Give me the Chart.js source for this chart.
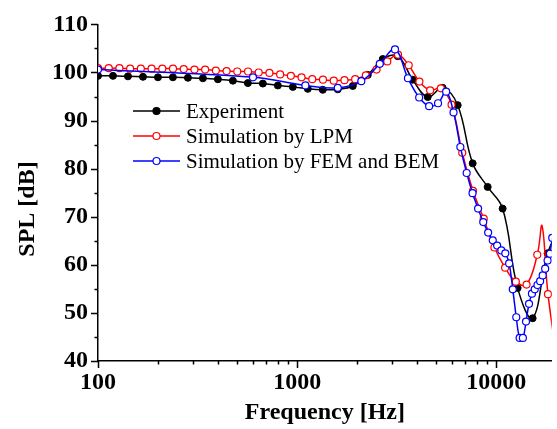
<!DOCTYPE html>
<html>
<head>
<meta charset="utf-8">
<script src="https://cdn.jsdelivr.net/npm/chart.js@4.4.1/dist/chart.umd.min.js"></script>
<style>
  html, body { margin: 0; padding: 0; background: #fff; }
  #wrap { width: 557px; height: 429px; }
</style>
</head>
<body>
<div id="wrap"><canvas id="splChart" width="557" height="429"></canvas></div>
<script>
// Measured SPL (1/4 octave points)
const expFreq = [100, 118.9, 141.4, 168.2, 200, 237.8, 282.8, 336.4, 400, 475.7, 565.7, 672.7, 800, 951.4,
    1131, 1345, 1600, 1903, 2263, 2691, 3200, 3805, 4525, 5382, 6400, 7611, 9051, 10764, 12800, 15222, 18102, 21527];
const expSPL = [99.3, 99.3, 99.2, 99.1, 99.0, 99.0, 98.9, 98.8, 98.6, 98.3, 97.8, 97.7, 97.3, 97.0,
    96.6, 96.4, 96.5, 97.2, 99.5, 102.8, 103.4, 98.5, 94.9, 96.8, 93.2, 81.1, 76.2, 71.7, 55.2, 48.9, 62.4, 69];

// Lumped parameter model
const lpmFreq = [100, 113.2, 128.1, 145.0, 164.1, 185.8, 210.3, 238.0, 269.4, 305.0, 345.1, 390.7, 442.2, 500.5,
    566.6, 641.2, 725.8, 821.5, 929.9, 1052, 1191, 1348, 1526, 1728, 1956, 2213, 2505, 2836, 3210, 3633,
    4111, 4654, 5268, 5962, 6749, 7638, 8646, 9786, 11077, 12538, 14191, 16063, 16975, 18180, 20577];
const lpmSPL = [100.9, 100.9, 100.9, 100.8, 100.8, 100.8, 100.8, 100.8, 100.7, 100.6, 100.6, 100.4, 100.3, 100.2,
    100.2, 100.0, 99.9, 99.6, 99.3, 99.0, 98.6, 98.5, 98.3, 98.4, 98.6, 99.4, 100.6, 102.3, 103.7, 101.5,
    98.1, 96.3, 96.7, 93.3, 83.3, 75.4, 69.6, 63.6, 59.4, 56.5, 55.9, 62.1, 68.1, 53.9, 38];
const lpmLineOnly = [42]; // spike point has no marker in the original

// FEM + BEM simulation (every 500 Hz)
const femFreq = [100, 600, 1100, 1600, 2100, 2600, 3100, 3600, 4100, 4600, 5100, 5600, 6100, 6600, 7100, 7600,
    8100, 8600, 9100, 9600, 10100, 10600, 11100, 11600, 12100, 12600, 13100, 13600, 14100, 14600, 15100,
    15600, 16100, 16600, 17100, 17600, 18100, 18600, 19100, 19600];
const femSPL = [100.6, 99.0, 97.3, 96.8, 98.2, 101.8, 104.8, 98.8, 94.8, 93.0, 93.6, 96.0, 91.7, 84.5, 79.1, 74.9,
    71.7, 68.9, 66.7, 65.1, 64.0, 63.0, 62.4, 60.3, 54.9, 49.1, 44.8, 44.8, 48.2, 51.9, 54.0,
    54.9, 55.8, 56.6, 57.8, 59.2, 60.9, 62.3, 65.6, 69];

const xTicks = [100, 1000, 10000];
const yTicks = [40, 50, 60, 70, 80, 90, 100, 110];
const seriesNames = ["Experiment", "Simulation by LPM", "Simulation by FEM and BEM"];

const serif = "'Liberation Serif', 'Times New Roman', serif";

function toPoints(freqs, values) {
    return freqs.map((f, i) => ({ x: f, y: values[i] }));
}

// tick marks (major + minor) and axis titles
const axisDecor = {
    id: "axisDecor",
    afterDraw(chart) {
        const ctx = chart.ctx;
        const xs = chart.scales.x, ys = chart.scales.y;
        const area = chart.chartArea;
        ctx.save();
        ctx.strokeStyle = "#000";
        ctx.lineWidth = 1.5;
        ctx.beginPath();
        xTicks.forEach(d => {
            for (let m = 1; m <= 9; m++) {
                const v = d * m;
                if (v > xs.max) continue;
                const px = Math.round(xs.getPixelForValue(v)) + 0.5;
                ctx.moveTo(px, area.bottom);
                ctx.lineTo(px, area.bottom + (m === 1 ? 7 : 3.5));
            }
        });
        for (let v = ys.min; v <= ys.max; v += 5) {
            const py = Math.round(ys.getPixelForValue(v)) + 0.5;
            ctx.moveTo(area.left, py);
            ctx.lineTo(area.left - (v % 10 === 0 ? 7 : 3.5), py);
        }
        ctx.stroke();

        ctx.fillStyle = "#000";
        ctx.font = "bold 24px " + serif;
        ctx.textAlign = "center";
        ctx.textBaseline = "middle";
        ctx.fillText("Frequency [Hz]", (area.left + area.right) / 2, 413);
        ctx.translate(28, 209);
        ctx.rotate(-Math.PI / 2);
        ctx.fillText("SPL [dB]", 0, 0);
        ctx.restore();
    }
};

// legend inside the plot, drawn from the dataset styles
const innerLegend = {
    id: "innerLegend",
    afterDraw(chart) {
        const ctx = chart.ctx;
        const rows = [111, 136, 161];
        ctx.save();
        ctx.font = "21px " + serif;
        ctx.textBaseline = "middle";
        ctx.textAlign = "left";
        chart.data.datasets.forEach((ds, i) => {
            const y = rows[i];
            ctx.strokeStyle = ds.borderColor;
            ctx.lineWidth = ds.borderWidth;
            ctx.beginPath();
            ctx.moveTo(133, y);
            ctx.lineTo(180, y);
            ctx.stroke();
            ctx.beginPath();
            ctx.arc(156.5, y, 3.5, 0, Math.PI * 2);
            ctx.fillStyle = ds.pointBackgroundColor;
            ctx.fill();
            ctx.lineWidth = 1.2;
            ctx.strokeStyle = ds.pointBorderColor;
            ctx.stroke();
            ctx.fillStyle = "#000";
            ctx.fillText(seriesNames[i], 186, y + 1);
        });
        ctx.restore();
    }
};

const chartCanvas = document.getElementById("splChart").getContext("2d");

const splChart = new Chart(chartCanvas, {
    type: "line",
    data: {
        datasets: [
            {
                label: seriesNames[0],
                data: toPoints(expFreq, expSPL),
                borderColor: "#000000",
                borderWidth: 1.5,
                pointRadius: 3.5,
                pointBackgroundColor: "#000000",
                pointBorderColor: "#000000",
                pointBorderWidth: 1,
                tension: 0.4,
                order: 2
            },
            {
                label: seriesNames[1],
                data: toPoints(lpmFreq, lpmSPL),
                borderColor: "#ff0000",
                borderWidth: 1.5,
                pointRadius: ctx => lpmLineOnly.includes(ctx.dataIndex) ? 0 : 3.5,
                pointBackgroundColor: "#ffffff",
                pointBorderColor: "#ff0000",
                pointBorderWidth: 1.2,
                tension: 0.4,
                order: 1
            },
            {
                label: seriesNames[2],
                data: toPoints(femFreq, femSPL),
                borderColor: "#0000ff",
                borderWidth: 1.5,
                pointRadius: 3.5,
                pointBackgroundColor: "#ffffff",
                pointBorderColor: "#0000ff",
                pointBorderWidth: 1.2,
                tension: 0.4,
                order: 0
            }
        ]
    },
    options: {
        responsive: false,
        animation: false,
        layout: { padding: { top: 22, right: 0, left: 0, bottom: 0 } },
        plugins: {
            legend: { display: false },
            tooltip: { enabled: false }
        },
        scales: {
            x: {
                type: "logarithmic",
                min: 100,
                max: 19000,
                afterBuildTicks: s => { s.ticks = xTicks.map(v => ({ value: v })); },
                afterFit: s => { s.height = 68; s.paddingLeft = 0; s.paddingRight = 0; },
                ticks: {
                    color: "#000",
                    font: { family: serif, size: 24, weight: "bold" },
                    padding: 7,
                    maxRotation: 0,
                    autoSkip: false,
                    callback: v => String(v)
                },
                grid: { drawOnChartArea: false, drawTicks: false },
                border: { color: "#000", width: 1.5 }
            },
            y: {
                min: 40,
                max: 110,
                afterBuildTicks: s => { s.ticks = yTicks.map(v => ({ value: v })); },
                afterFit: s => { s.width = 98; },
                ticks: {
                    color: "#000",
                    font: { family: serif, size: 24, weight: "bold" },
                    padding: 10,
                    autoSkip: false
                },
                grid: { drawOnChartArea: false, drawTicks: false },
                border: { color: "#000", width: 1.5 }
            }
        }
    },
    plugins: [axisDecor, innerLegend]
});
</script>
</body>
</html>
